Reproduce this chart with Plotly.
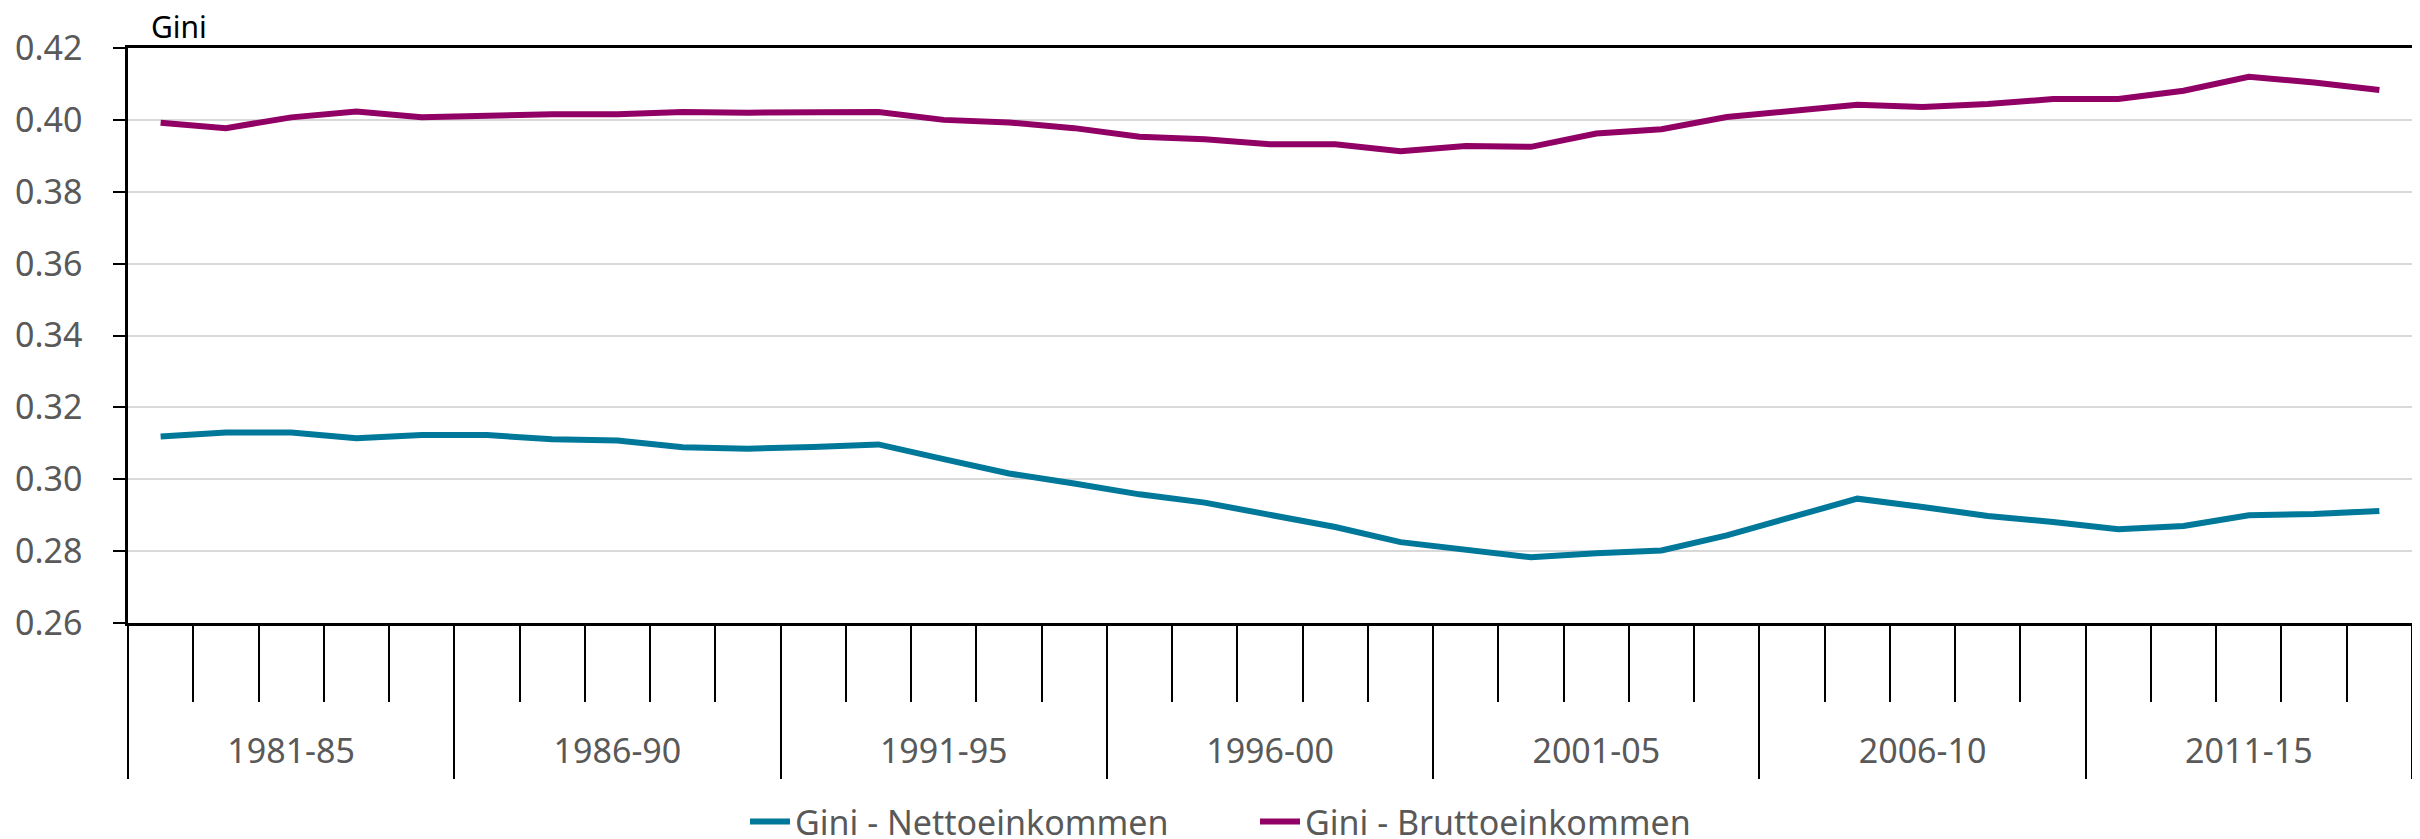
import plotly.graph_objects as go

# Jahre (35 Kategorien, in 5er-Gruppen beschriftet)
years = list(range(1981, 2016))
groups = ["1981-85", "1986-90", "1991-95", "1996-00", "2001-05", "2006-10", "2011-15"]
group_size = 5

gini_netto = [0.3119, 0.3130, 0.3130, 0.3114, 0.3123, 0.3123, 0.3111, 0.3108, 0.3089, 0.3085,
              0.3090, 0.3097, 0.3056, 0.3016, 0.2988, 0.2958, 0.2935, 0.2902, 0.2867, 0.2825,
              0.2805, 0.2783, 0.2794, 0.2802, 0.2844, 0.2895, 0.2946, 0.2923, 0.2898, 0.2881,
              0.2861, 0.2870, 0.2900, 0.2903, 0.2912]
gini_brutto = [0.3992, 0.3977, 0.4007, 0.4023, 0.4007, 0.4012, 0.4016, 0.4016, 0.4022, 0.4020,
               0.4022, 0.4022, 0.4000, 0.3993, 0.3977, 0.3953, 0.3946, 0.3932, 0.3932, 0.3913,
               0.3927, 0.3925, 0.3962, 0.3974, 0.4008, 0.4025, 0.4042, 0.4036, 0.4044, 0.4058,
               0.4058, 0.4081, 0.4120, 0.4104, 0.4083]

FONT = "Noto Sans"
GREY = "#595959"

# Gruppengrenzen und -mitten
boundaries = [years[0] - 0.5 + i * group_size for i in range(len(groups) + 1)]
centers = [years[0] + 2 + i * group_size for i in range(len(groups))]
x_range = [years[0] - 0.5, years[-1] + 0.5]

fig = go.Figure()

fig.add_trace(go.Scatter(
    x=years, y=gini_netto, mode="lines", name="Gini - Nettoeinkommen",
    line=dict(color="#00789A", width=6)
))
fig.add_trace(go.Scatter(
    x=years, y=gini_brutto, mode="lines", name="Gini - Bruttoeinkommen",
    line=dict(color="#910064", width=6)
))
# unsichtbare Spur, damit die Gruppenachse gezeichnet wird
fig.add_trace(go.Scatter(
    x=[years[0], years[-1]], y=[0.3, 0.3], xaxis="x2", mode="lines",
    line=dict(width=0), showlegend=False, hoverinfo="skip"
))

# die Seite hat 8px Rand, daher etwas kleiner
fig.update_layout(
    width=2412, height=831,
    margin=dict(l=120, r=8, t=40, b=216, autoexpand=False),
    plot_bgcolor="white", paper_bgcolor="white",
    font=dict(family=FONT, size=34, color=GREY),
    xaxis=dict(
        range=x_range,
        tickmode="array", tickvals=boundaries, ticktext=[""] * len(boundaries),
        ticks="outside", ticklen=153, tickwidth=2, tickcolor="black",
        minor=dict(tickmode="linear", tick0=years[0] - 0.5, dtick=1,
                   ticks="outside", ticklen=76, tickwidth=2, tickcolor="black",
                   showgrid=False),
        showline=True, linecolor="black", linewidth=2.5, mirror=True,
        showgrid=False, zeroline=False,
    ),
    xaxis2=dict(
        range=x_range, overlaying="x", anchor="y", side="bottom",
        tickmode="array", tickvals=centers, ticktext=groups,
        ticks="", showline=False, showgrid=False, zeroline=False,
        ticklabelstandoff=105,
        tickfont=dict(family=FONT, size=34, color=GREY),
    ),
    yaxis=dict(
        range=[0.26, 0.42], dtick=0.02, tickformat=".2f",
        ticks="outside", ticklen=12, tickwidth=2, tickcolor="black",
        ticklabelstandoff=24,
        showline=True, linecolor="black", linewidth=2.5, mirror=True,
        showgrid=True, gridcolor="#D9D9D9", gridwidth=2, zeroline=False,
        tickfont=dict(family=FONT, size=34, color=GREY),
    ),
    legend=dict(
        orientation="h", xref="container", yref="container",
        x=0.517, xanchor="center", y=0.0205, yanchor="middle",
        font=dict(family=FONT, size=34, color=GREY),
        itemwidth=40, entrywidth=455, bgcolor="rgba(0,0,0,0)",
    ),
    annotations=[dict(
        text="Gini", xref="paper", yref="paper", x=0.009, y=1.038,
        xanchor="left", yanchor="middle", showarrow=False,
        font=dict(family=FONT, size=30, color="black"),
    )],
)

fig.write_html("out.html")
